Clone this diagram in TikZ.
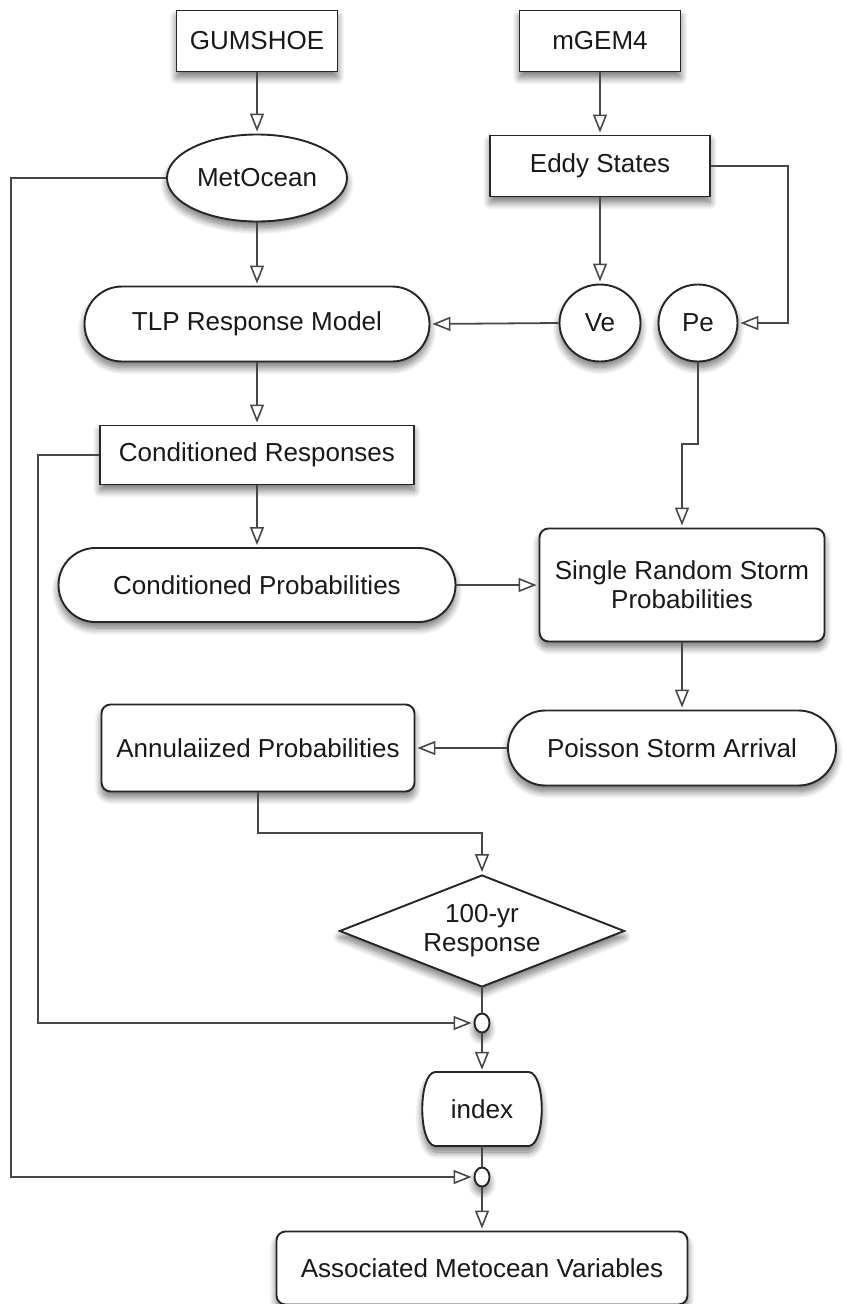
\documentclass[tikz,border=0pt]{standalone}
\usepackage{fontspec}
\setmainfont{Liberation Sans}
\usetikzlibrary{arrows.meta,shapes.geometric,shapes.misc,shadows.blur}

\tikzset{
  softshadow/.style={blur shadow={shadow xshift=0pt, shadow yshift=-6pt,
      shadow blur radius=7pt, shadow blur steps=12, shadow opacity=55}},
  base/.style={draw=black!85, line width=1.9pt, fill=white, text=black!90,
      font=\fontsize{26}{29}\selectfont, align=center, inner sep=0pt, softshadow},
  box/.style={base, rectangle},
  rbox/.style={base, rectangle, rounded corners=9pt},
  pill/.style={base, rounded rectangle},
  oval/.style={base, ellipse},
  decide/.style={base, diamond, shape aspect=2.5},
  joint/.style={draw=black!85, line width=1.9pt, fill=white, ellipse,
      minimum width=15pt, minimum height=19pt, inner sep=0pt, softshadow},
  flow/.style={draw=black!72, line width=1.8pt, shorten >=2pt,
      -{Triangle[open, length=18pt, width=14pt, line width=1.6pt]}},
  link/.style={draw=black!72, line width=1.8pt},
}

\begin{document}
\begin{tikzpicture}[x=1pt, y=-1pt]
  \useasboundingbox (0,0) rectangle (845,1304);

  % sources
  \node[box, minimum width=161pt, minimum height=61pt] (gum)  at (257,41)  {GUMSHOE};
  \node[box, minimum width=161pt, minimum height=61pt] (mgem) at (600,41)  {mGEM4};

  \node[oval, minimum width=180pt, minimum height=87pt] (met)  at (257,178) {MetOcean};
  \node[box, minimum width=220pt, minimum height=61pt]  (eddy) at (600,166) {Eddy States};

  \node[pill, minimum width=345pt, minimum height=75pt] (tlp) at (257,324) {TLP Response Model};
  \node[oval, minimum width=81pt, minimum height=77pt]  (ve)  at (600,323) {Ve};
  \node[oval, minimum width=79pt, minimum height=77pt]  (pe)  at (698,323) {Pe};

  \node[box, minimum width=314pt, minimum height=59pt]   (cr)  at (257,455) {Conditioned Responses};
  \node[pill, minimum width=397pt, minimum height=74pt]  (cp)  at (257,585) {Conditioned Probabilities};
  \node[rbox, minimum width=285pt, minimum height=113pt] (srs) at (682,585) {Single Random Storm\\Probabilities};

  \node[pill, minimum width=328pt, minimum height=75pt] (poi) at (672,748) {Poisson Storm Arrival};
  \node[rbox, minimum width=313pt, minimum height=87pt] (ann) at (258,748) {Annulaiized Probabilities};

  \node[decide, minimum width=285pt, minimum height=112pt] (dia) at (482,931) {100-yr\\Response};
  \node[joint] (c1) at (482,1023) {};

  % barrel-shaped index step
  \path[draw=black!85, line width=1.9pt, fill=white, softshadow]
    (435,1072) -- (529,1072)
    .. controls (546,1074) and (546,1144) .. (529,1146)
    -- (435,1146)
    .. controls (418,1144) and (418,1074) .. (435,1072) -- cycle;
  \node[font=\fontsize{26}{29}\selectfont, text=black!90, inner sep=0pt,
        minimum width=116pt, minimum height=74pt] (idx) at (482,1109) {index};

  \node[joint] (c2) at (482,1177) {};
  \node[rbox, minimum width=411pt, minimum height=73pt] (assoc) at (482,1268) {Associated Metocean Variables};

  % rails and bends
  \coordinate (railA) at (11,0);
  \coordinate (railB) at (38,0);
  \coordinate (railR) at (788,0);
  \coordinate (jog)   at (0,444);
  \coordinate (bend)  at (0,833);

  % connectors
  \draw[flow] (gum.south) -- (met.north);
  \draw[flow] (mgem.south) -- (eddy.north);
  \draw[flow] (met.south) -- (tlp.north);
  \draw[flow] (eddy.south) -- (ve.north);
  \draw[flow] (eddy.east) -- (eddy.east -| railR) |- (pe.east);
  \draw[flow] (ve.west) -- (tlp.east);
  \draw[flow] (tlp.south) -- (cr.north);
  \draw[flow] (pe.south) -- (pe.south |- jog) -- (srs.north |- jog) -- (srs.north);
  \draw[flow] (cr.south) -- (cp.north);
  \draw[flow] (cp.east) -- (srs.west);
  \draw[flow] (srs.south) -- (srs.south |- poi.north);
  \draw[flow] (poi.west) -- (ann.east);
  \draw[flow] (ann.south) -- (ann.south |- bend) -| (dia.north);
  \draw[link] (dia.south) -- (c1.north);
  \draw[flow] (cr.west) -- (cr.west -| railB) |- (c1.west);
  \draw[flow] (c1.south) -- (idx.north);
  \draw[link] (idx.south) -- (c2.north);
  \draw[flow] (met.west) -- (met.west -| railA) |- (c2.west);
  \draw[flow] (c2.south) -- (assoc.north);
\end{tikzpicture}
\end{document}
